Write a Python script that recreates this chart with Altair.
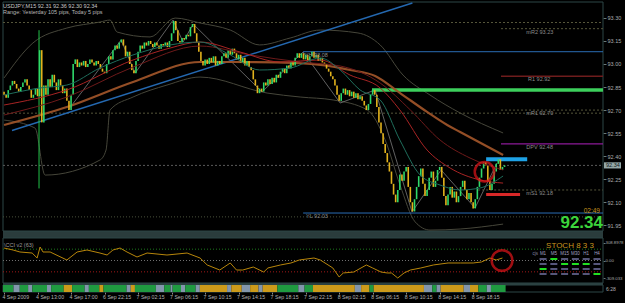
import altair as alt
import pandas as pd

# ---------------- data ----------------
FIRST_OPEN = 92.82
CLOSES = [
    92.80, 92.78, 92.83, 92.86, 92.89, 92.87, 92.84, 92.82, 92.85, 92.88,
    92.90, 92.86, 92.83, 92.78, 92.80, 92.84, 92.79,
    93.09, 92.62, 92.86, 92.80,
    92.90, 92.85, 92.93, 92.88, 92.83, 92.90, 92.86, 92.81, 92.84,
    92.76, 92.70, 92.80, 93.00, 93.03,
    92.98, 93.01, 92.99, 93.02, 92.98, 93.00, 93.03, 93.01, 92.99, 93.02, 93.00, 92.97, 92.95,
    92.94,
    93.00, 93.05, 93.03, 93.09, 93.12, 93.10, 93.14, 93.16,
    93.12, 93.05, 93.08, 93.00, 92.96, 92.94,
    93.02, 93.08, 93.12, 93.10, 93.14,
    93.12, 93.15, 93.13, 93.11, 93.14, 93.12, 93.10, 93.13, 93.12, 93.14, 93.11, 93.15,
    93.20, 93.28, 93.22,
    93.15, 93.14, 93.17, 93.16, 93.19, 93.18,
    93.24, 93.26, 93.20,
    93.14, 93.08, 93.02, 92.99, 93.03, 93.00, 93.04, 93.01,
    93.05, 92.99, 93.02, 93.00, 93.05, 93.07, 93.04, 93.09, 93.06, 93.10, 93.07,
    93.03, 93.06, 93.01, 93.04, 92.99, 93.02, 92.98, 92.96,
    92.90, 92.86, 92.81, 92.84, 92.82,
    92.88, 92.86, 92.90, 92.87, 92.91, 92.88, 92.93, 92.91,
    92.95, 92.97, 92.94, 92.99, 92.97, 93.01, 92.99, 93.04, 93.07,
    93.04, 93.07, 93.03, 93.06, 93.02, 93.05, 93.08, 93.04, 93.06, 93.02, 93.04, 93.01, 93.00,
    92.97, 92.95, 92.92, 92.90, 92.86, 92.80, 92.76,
    92.81, 92.84, 92.80, 92.83, 92.79, 92.82, 92.78, 92.81, 92.77, 92.79, 92.76,
    92.73, 92.70, 92.74, 92.80, 92.83,
    92.80, 92.72, 92.62, 92.55, 92.48, 92.42, 92.36, 92.30, 92.22, 92.15,
    92.10, 92.18, 92.28, 92.24,
    92.30, 92.33, 92.20, 92.10, 92.04, 92.12, 92.20, 92.27, 92.32,
    92.22, 92.14, 92.18, 92.26, 92.30, 92.20, 92.24, 92.31, 92.33, 92.26, 92.14,
    92.08, 92.15, 92.20, 92.13, 92.17, 92.10, 92.14, 92.20, 92.24, 92.18,
    92.12, 92.16, 92.10, 92.06, 92.12, 92.20, 92.26,
    92.32, 92.36, 92.34, 92.24,
    92.18, 92.22, 92.30, 92.35, 92.38, 92.31, 92.33, 92.34,
]

TIME_BARS = [0, 16, 32, 48, 64, 80, 96, 112, 128, 144, 160, 176, 192, 208, 224]
TIME_LABELS = ["4 Sep 2009", "4 Sep 13:00", "4 Sep 17:00", "6 Sep 22:15", "7 Sep 02:15",
               "7 Sep 06:15", "7 Sep 10:15", "7 Sep 14:15", "7 Sep 18:15", "7 Sep 22:15",
               "8 Sep 02:15", "8 Sep 06:15", "8 Sep 10:15", "8 Sep 14:15", "8 Sep 18:15"]
PRICE_TICKS = [93.30, 93.15, 93.00, 92.85, 92.70, 92.55, 92.40, 92.25, 92.10, 91.95]

# moving averages / bands (bar, price)
ORANGE_BARS = [0, 30, 61.6, 93.6, 109.4, 141.4, 152.3, 165.2, 177.2, 189.1, 202, 211.6, 217.8, 238.3]
ORANGE_PRICES = [92.603, 92.720, 92.883, 93.013, 93.013, 93.006, 92.993, 92.961, 92.922, 92.811,
                 92.688, 92.603, 92.557, 92.408]
TEAL_BARS = [0, 17.2, 30, 45.8, 61.6, 79.3, 93.6, 108, 122, 136.6, 151, 160.5, 170, 179.6, 189,
             198.7, 208.2, 217.8, 227.3, 238.3]
TEAL_PRICES = [92.798, 92.844, 92.863, 92.974, 93.059, 93.124, 93.143, 93.059, 92.961, 92.974,
               93.039, 92.961, 92.831, 92.766, 92.505, 92.277, 92.212, 92.180, 92.193, 92.271]
RED_BARS = [0, 30, 61.6, 79.3, 93.6, 112.7, 131.8, 151, 165.2, 179.6, 189, 202, 213, 227.3, 238.3]
RED_PRICES = [92.733, 92.831, 93.026, 93.104, 93.143, 93.078, 93.013, 93.026, 92.928, 92.844,
              92.701, 92.440, 92.323, 92.245, 92.225]
DRED_BARS = [0, 30, 61.6, 93.6, 117.5, 141.4, 160.5, 179.6, 194, 208.2, 222.5, 238.3]
DRED_PRICES = [92.668, 92.785, 92.980, 93.117, 93.059, 93.013, 92.987, 92.876, 92.701, 92.505,
               92.388, 92.310]
BBU_BARS = [0, 13.8, 30, 45.8, 50.6, 54, 69.7, 81.7, 93.6, 108, 122, 136.6, 151, 169, 179.6,
            190.5, 203.4, 217.8, 238.3]
BBU_PRICES = [92.909, 93.137, 93.234, 93.273, 93.286, 93.208, 93.176, 93.299, 93.267, 93.221,
              93.124, 93.169, 93.221, 93.202, 93.124, 92.928, 92.798, 92.681, 92.551]
BBL_BARS = [0, 14.8, 19.6, 45.8, 48.7, 50.6, 61.6, 77.8, 93.6, 125.6, 141.4, 157.1, 173.4, 182,
            189.1, 196.3, 203.4, 217.8, 238.3]
BBL_PRICES = [92.635, 92.583, 92.277, 92.375, 92.440, 92.701, 92.785, 92.863, 92.915, 92.811,
              92.785, 92.766, 92.701, 92.505, 92.212, 91.972, 91.919, 91.926, 91.958]
ZZ_BARS = [30.6, 55.9, 62.6, 80.7, 85.5, 90.3, 123.2, 142.8, 160.5, 177.2, 194.8, 208.7, 224.9, 235.4]
ZZ_PRICES = [92.700, 93.156, 92.941, 93.286, 93.143, 93.260, 92.818, 93.078, 92.746, 92.831,
             92.037, 92.310, 92.063, 92.356]
TREND_BARS = [3.8, 195.0]
TREND_PRICES = [92.567, 93.397]
VLINE_BAR = [16.7]
VLINE_TOP = [93.22]
VLINE_BOTTOM = [92.19]

# horizontal levels
LEVEL_NAMES = ["hi_dash", "lo_dash", "price_dash", "bottom_dot", "mR2", "R1", "mR1", "DPV",
               "mS1", "YH", "YL", "green_box", "blue_box", "red_box"]
LEVEL_PRICES = [93.27, 92.68, 92.34, 92.005, 93.23, 92.92, 92.70, 92.48, 92.18, 93.08, 92.03,
                92.83, 92.38, 92.15]
LEVEL_START = [-0.5, -0.5, -0.5, -0.5, 237.3, 237.3, 237.3, 237.3, 226.4, 142.8, 142.8,
               175.7, 230.2, 230.2]
LEVEL_END = [286, 286, 286, 286, 286, 286, 286, 286, 286, 286, 286, 286, 249.8, 246.4]

LABEL_TEXTS = ["mR2 93.23", "R1 92.92", "mR1 92.70", "DPV 92.48", "mS1 92.18", "YH 93.08", "YL 92.03"]
LABEL_PRICES = [93.23, 92.92, 92.70, 92.48, 92.18, 93.08, 92.03]
LABEL_BARS = [249.4, 250.2, 249.4, 249.4, 249.4, 143.7, 144.2]

# oscillator (bar, value)
IND_BARS = [0, 4.3, 7.6, 13.4, 15.8, 17.2, 18.6, 22, 30, 34.9, 39.6, 45.8, 49.2, 52, 55.4, 58.7,
            63.5, 68.3, 77.8, 87.4, 93.6, 97, 103, 108, 111, 114, 119, 124, 126, 132, 137, 141,
            148, 151, 157, 160, 162, 167, 173, 176, 180, 183, 185, 188, 191, 194, 199, 205, 212,
            218, 224, 228, 232, 235, 238]
IND_VALUES = [220, 185, 150, 132, 44, 238, 150, 150, 9, 150, 185, 132, 97, 185, 220, 150,
              62, 132, 97, 132, 44, -79, -168, -44, -168, -168, -115, -203, -132, -79, -44, 9,
              44, 9, -132, -291, -220, -203, -79, -132, -203, -220, -220, -309, -220, -168, -132,
              -79, -44, -44, -44, -26, 44, 9, 44]
IND_LEVELS = [200, 0, -200]
IND_TICKS = [308.8978, 0, -309.033]

# colour strip segments
SEG_START = [-0.5, 4.5, 7.5, 11.5, 13.5, 20.5, 22.5, 28.5, 32.5, 38.5, 40.5, 45.5, 47.5, 58.5,
             60.5, 62.5, 72.5, 76.5, 79.5, 80.5, 84.5, 86.5, 91.5, 93.5, 106.5, 108.5, 113.5,
             117.5, 121.5, 123.5, 130.5, 140.5, 143.5, 147.5, 167.5, 170.5, 174.5, 176.5, 200.5,
             204.5, 206.5, 208.5, 219.5, 222.5, 226.5, 230.5, 232.5]
SEG_END = SEG_START[1:] + [239.5]
SEG_STATE = ["G", "B", "G", "B", "G", "B", "G", "O", "G", "B", "G", "O", "G", "B",
             "O", "G", "B", "G", "B", "G", "B", "G", "B", "O", "B", "O", "B",
             "O", "B", "O", "G", "B", "G", "O", "B", "O", "G", "O", "B",
             "G", "B", "O", "B", "O", "G", "B", "G"]

# stoch matrix
GRID_COLS = ["M1", "M5", "M15", "M30", "H1", "H4"]
GRID_ROWS = [0, 1, 2, 3]
GRID_ON = [
    [0, 1, 0, 0, 0, 0],
    [0, 0, 1, 1, 1, 0],
    [1, 0, 0, 0, 0, 0],
    [0, 0, 0, 0, 0, 1],
]

CIRCLE_MAIN = (229.4, 92.299)
CIRCLE_IND = (237.8, 0)

# ---------------- styling ----------------
FONT = "Liberation Sans"
GREEN = "#2fd86a"
YELLOW = "#e2b21c"
BG = "#000000"
FRAME = "#2c4646"
SEP = "#2a3c3c"

XS = alt.Scale(domain=[-0.5, 286.0], range=[3, 603], nice=False, zero=False)
PY = alt.Scale(domain=[91.913, 93.397], range=[231, 3], nice=False, zero=False)
IY = alt.Scale(domain=[-397.0, 397.0], range=[283, 238], nice=False, zero=False)


def one():
    return alt.Data(values=[{"k": 0}])


def xq(field):
    return alt.X(field, type="quantitative", scale=XS, axis=None)


def yp(field):
    return alt.Y(field, type="quantitative", scale=PY, axis=None)


layers = []

# separators and frames
for y0, y1 in [(231, 238), (283, 285)]:
    layers.append(alt.Chart(one()).mark_rect(color=SEP).encode(
        x=alt.value(3), x2=alt.value(603), y=alt.value(y0), y2=alt.value(y1)))
for y0, y1 in [(2, 231), (238, 283), (285, 292)]:
    layers.append(alt.Chart(one()).mark_rect(filled=False, stroke=FRAME, strokeWidth=1).encode(
        x=alt.value(3), x2=alt.value(603), y=alt.value(y0), y2=alt.value(y1)))


def line_layer(bars, prices, color, width, interp="monotone", opacity=1.0):
    df = pd.DataFrame({"bar": bars, "p": prices})
    return alt.Chart(df).mark_line(color=color, strokeWidth=width, interpolate=interp,
                                   opacity=opacity).encode(x=xq("bar"), y=yp("p"))


layers.append(line_layer(BBU_BARS, BBU_PRICES, "#46463a", 1))
layers.append(line_layer(BBL_BARS, BBL_PRICES, "#46463a", 1))
layers.append(line_layer(ZZ_BARS, ZZ_PRICES, "#7a7a7a", 0.8, interp="linear"))

# level lines
LEVEL_STYLE = {
    "hi_dash": ("#55553a", 1, [2, 2]),
    "lo_dash": ("#55553a", 1, [2, 2]),
    "price_dash": ("#5a5a5a", 1, [2, 2]),
    "bottom_dot": ("#48503a", 1, [1, 2]),
    "mR2": ("#55553a", 1, [2, 2]),
    "R1": ("#6e1c1c", 1.6, None),
    "mR1": ("#55553a", 1, [2, 2]),
    "DPV": ("#8c1a98", 1.4, None),
    "mS1": ("#55553a", 1, [2, 2]),
    "YH": ("#2a6cb4", 1, None),
    "YL": ("#2a6cb4", 1, None),
    "green_box": ("#3ccf5c", 3.5, None),
    "blue_box": ("#1ea2e6", 4, None),
    "red_box": ("#d82828", 3, None),
}
for name, p, s, e in zip(LEVEL_NAMES, LEVEL_PRICES, LEVEL_START, LEVEL_END):
    color, width, dash = LEVEL_STYLE[name]
    df = pd.DataFrame({"s": [s], "e": [e], "p": [p]})
    kw = dict(color=color, strokeWidth=width)
    if dash:
        kw["strokeDash"] = dash
    layers.append(alt.Chart(df).mark_rule(**kw).encode(
        x=xq("s"), x2="e", y=yp("p")))

# trendline and vertical line
layers.append(line_layer(TREND_BARS, TREND_PRICES, "#2468b0", 1.4, interp="linear"))
vdf = pd.DataFrame({"bar": VLINE_BAR, "t": VLINE_TOP, "b": VLINE_BOTTOM})
layers.append(alt.Chart(vdf).mark_rule(color="#22c44a", strokeWidth=1).encode(
    x=xq("bar"), y=yp("t"), y2="b"))

# orange slow average sits under the candles
layers.append(line_layer(ORANGE_BARS, ORANGE_PRICES, "#9c5228", 2.2, opacity=0.95))

# candles
opens = [FIRST_OPEN] + CLOSES[:-1]
cdf = pd.DataFrame({
    "bar": list(range(len(CLOSES))),
    "open": opens,
    "close": CLOSES,
})
cdf["dir"] = ["up" if c >= o else "down" for o, c in zip(opens, CLOSES)]
layers.append(alt.Chart(cdf).mark_rule(strokeWidth=1.6).encode(
    x=xq("bar"),
    y=alt.Y("open:Q", scale=PY, axis=alt.Axis(
        orient="right", offset=-22, values=PRICE_TICKS, format=".2f", tickSize=3,
        tickColor="#6a7a7a", domain=False, grid=False, labelColor="#a8acac", labelFontSize=5.5,
        labelFont=FONT, labelPadding=1, title=None, labelOverlap=False, labelBound=False,
        labelFlush=False)),
    y2="close:Q",
    color=alt.Color("dir:N", scale=alt.Scale(domain=["up", "down"], range=[GREEN, YELLOW]),
                    legend=None),
))

# faster averages
layers.append(line_layer(DRED_BARS, DRED_PRICES, "#6e1a1a", 1))
layers.append(line_layer(RED_BARS, RED_PRICES, "#a82424", 1))
layers.append(line_layer(TEAL_BARS, TEAL_PRICES, "#1f6e5c", 1))

# level labels
ldf = pd.DataFrame({"bar": LABEL_BARS, "p": LABEL_PRICES, "t": LABEL_TEXTS})
layers.append(alt.Chart(ldf).mark_text(align="left", baseline="top", dy=1, fontSize=5.5,
                                       font=FONT, color="#8c8c8c").encode(
    x=xq("bar"), y=yp("p"), text="t:N"))

# current price box on axis
layers.append(alt.Chart(one()).mark_rect(color="#95a8a8").encode(
    x=alt.value(604), x2=alt.value(621),
    y=alt.Y(datum=92.36, scale=PY, axis=None), y2=alt.Y2(datum=92.32)))
layers.append(alt.Chart(one()).mark_text(text="92.34", align="left", baseline="middle",
                                         fontSize=5.5, font=FONT, color="#101818").encode(
    x=alt.value(606), y=alt.Y(datum=92.34, scale=PY, axis=None)))

# info texts
layers.append(alt.Chart(one()).mark_text(text="USDJPY,M15  92.31 92.36 92.30 92.34", align="left",
                                         baseline="middle", fontSize=5.5, font=FONT,
                                         color="#c8c8c8").encode(
    x=alt.value(3), y=alt.value(5.5)))
layers.append(alt.Chart(one()).mark_text(text="Range: Yesterday 105 pips, Today 5 pips", align="left",
                                         baseline="middle", fontSize=5.5, font=FONT,
                                         color="#b8b8b8").encode(
    x=alt.value(3), y=alt.value(11.5)))
layers.append(alt.Chart(one()).mark_text(text="02:49", align="right", baseline="middle",
                                         fontSize=6.5, font=FONT, color="#c8961e").encode(
    x=alt.value(600), y=alt.value(211)))
layers.append(alt.Chart(one()).mark_text(text="92.34", align="right", baseline="middle",
                                         fontSize=17, fontWeight="bold", font=FONT,
                                         color="#3cd43c").encode(
    x=alt.value(603), y=alt.value(222.5)))

# main circle
cm = pd.DataFrame({"bar": [CIRCLE_MAIN[0]], "p": [CIRCLE_MAIN[1]]})
layers.append(alt.Chart(cm).mark_point(shape="circle", size=380, filled=False, color="#e3151a",
                                       strokeWidth=2.5).encode(x=xq("bar"), y=yp("p")))

# ---- oscillator panel ----
for lv, col in zip(IND_LEVELS, ["#1c7a1c", "#707070", "#a01818"]):
    df = pd.DataFrame({"s": [-0.5], "e": [286], "v": [lv]})
    layers.append(alt.Chart(df).mark_rule(color=col, strokeWidth=1, strokeDash=[1, 2]).encode(
        x=xq("s"), x2="e", y=alt.Y("v:Q", scale=IY, axis=None)))

tick_expr = ("datum.value == 0 ? '0.00' : (datum.value > 0 ? '308.8978' : '-309.033')")
idf = pd.DataFrame({"bar": IND_BARS, "v": IND_VALUES})
layers.append(alt.Chart(idf).mark_line(color="#b8860b", strokeWidth=1).encode(
    x=xq("bar"),
    y=alt.Y("v:Q", scale=IY, axis=alt.Axis(
        orient="right", offset=-22, values=IND_TICKS, labelExpr=tick_expr, tickSize=2,
        tickColor="#6a7a7a", domain=False, grid=False, labelColor="#a8acac", labelFontSize=4.3,
        labelFont=FONT, labelPadding=0, title=None, labelOverlap=False, labelBound=False,
        labelFlush=False)),
))
layers.append(alt.Chart(one()).mark_text(text="\\CCI v2 (63)", align="left", baseline="middle",
                                         fontSize=5.5, font=FONT, color="#9a9a9a").encode(
    x=alt.value(4), y=alt.value(245)))

ci = pd.DataFrame({"bar": [CIRCLE_IND[0]], "v": [CIRCLE_IND[1]]})
layers.append(alt.Chart(ci).mark_point(shape="circle", size=430, filled=False, color="#e3151a",
                                       strokeWidth=2.5).encode(
    x=xq("bar"), y=alt.Y("v:Q", scale=IY, axis=None)))

# STOCH matrix
layers.append(alt.Chart(one()).mark_text(text="STOCH  8 3 3", align="center", baseline="middle",
                                         fontSize=8, font=FONT, color="#c8961e").encode(
    x=alt.value(570), y=alt.value(246)))
layers.append(alt.Chart(one()).mark_text(text="cjs", align="right", baseline="middle",
                                         fontSize=4.5, font=FONT, color="#8080a0").encode(
    x=alt.value(538), y=alt.value(253.5)))
GX = alt.Scale(domain=GRID_COLS, range=[537.6, 602.4], paddingInner=0.35, paddingOuter=0.18)
GYS = alt.Scale(domain=GRID_ROWS, range=[256.5, 276.5], paddingInner=0.6, paddingOuter=0.3)
hdf = pd.DataFrame({"col": GRID_COLS})
layers.append(alt.Chart(hdf).mark_text(baseline="middle", fontSize=4.5, font=FONT,
                                       color="#a0a0c0").encode(
    x=alt.X("col:N", scale=GX, axis=None), y=alt.value(253.5), text="col:N"))
grid_rows = []
for r, flags in zip(GRID_ROWS, GRID_ON):
    for c, f in zip(GRID_COLS, flags):
        grid_rows.append({"col": c, "row": r, "on": "on" if f else "off"})
gdf = pd.DataFrame(grid_rows)
layers.append(alt.Chart(gdf).mark_rect().encode(
    x=alt.X("col:N", scale=GX, axis=None),
    y=alt.Y("row:O", scale=GYS, axis=None),
    color=alt.Color("on:N", scale=alt.Scale(domain=["off", "on"], range=["#56567a", "#22e022"]),
                    legend=None)))

# ---- colour strip with time axis ----
time_expr = "[" + ",".join("'%s'" % t for t in TIME_LABELS) + "][round(datum.value / 16)]"
bdf = pd.DataFrame({"s": SEG_START, "e": SEG_END, "state": SEG_STATE})
layers.append(alt.Chart(bdf).mark_rect().encode(
    x=alt.X("s:Q", scale=XS, axis=alt.Axis(
        orient="bottom", offset=-11, values=TIME_BARS, labelExpr=time_expr, tickSize=2,
        tickColor="#8a8a8a", domain=False, grid=False, labelColor="#b4b4b4", labelFontSize=5.2,
        labelFont=FONT, labelAlign="left", labelBaseline="top", labelPadding=0, labelOffset=-2,
        title=None, labelOverlap=False, labelBound=False, labelFlush=False)),
    x2="e:Q",
    y=alt.value(285), y2=alt.value(292),
    color=alt.Color("state:N", scale=alt.Scale(domain=["G", "O", "B"],
                                               range=["#1f9a40", "#cc9a1a", "#8296ac"]),
                    legend=None)))
layers.append(alt.Chart(one()).mark_text(text="6:28", align="left", baseline="middle",
                                         fontSize=5, font=FONT, color="#b0b0b0").encode(
    x=alt.value(606), y=alt.value(288.5)))

chart = alt.layer(*layers).resolve_scale(
    x="independent", y="independent", color="independent"
).properties(
    width=625, height=303, autosize=alt.AutoSizeParams(type="none"), padding=0, background=BG
).configure_view(stroke=None)

chart.save("out.html", embed_options={"renderer": "svg", "actions": False})
